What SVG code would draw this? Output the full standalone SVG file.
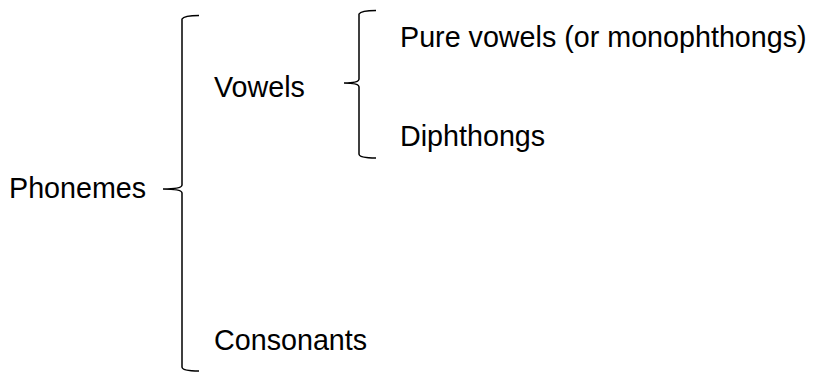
<svg xmlns="http://www.w3.org/2000/svg" width="817" height="372" viewBox="0 0 817 372">
<style>
text{font-family:"Liberation Sans",Arial,sans-serif;font-size:28.7px;fill:#000}
.brace{fill:none;stroke:#000;stroke-width:1.5}
</style>
<rect width="817" height="372" fill="#fff"/>
<g id="connectors">
<path class="brace" d="M199,15.5 Q184,15.5 182,19 L182,185 Q182,189 163,189 Q182,189 182,193 L182,367 Q182,371 199,371"/>
<path class="brace" d="M376,10.5 Q361,10.5 359,14 L359,79 Q359,83 344,83 Q359,83 359,87 L359,154 Q359,158 376,158"/>
</g>
<g id="phonemes"><text x="9" y="198">Phonemes</text></g>
<g id="vowels"><text x="214" y="97">Vowels</text></g>
<g id="consonants"><text x="214" y="350">Consonants</text></g>
<g id="pure"><text x="400" y="47">Pure vowels (or monophthongs)</text></g>
<g id="diphthongs"><text x="400" y="146">Diphthongs</text></g>
</svg>
